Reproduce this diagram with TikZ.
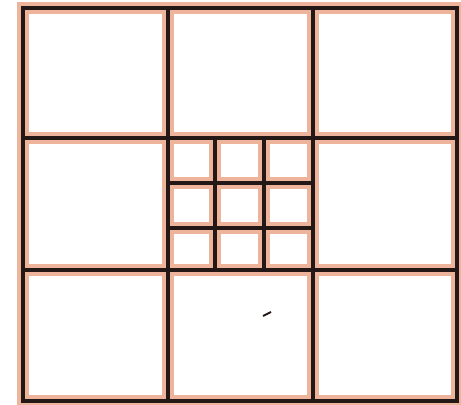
\documentclass[tikz,border=0pt]{standalone}
\usetikzlibrary{calc}
\definecolor{gridpeach}{HTML}{EEB39B}
\definecolor{gridink}{HTML}{231815}
\tikzset{
  peachband/.style={draw=gridpeach, line width=5.6pt, line cap=rect},
  inkline/.style={draw=gridink, line width=1.6pt, line cap=rect},
}
\begin{document}
\begin{tikzpicture}[x=0.5pt, y=-0.5pt]
  \useasboundingbox (0,0) rectangle (461,405);
  % coarse 3x3 grid
  \foreach \x in {23,168,313,457}
    \draw[peachband] (\x,8) -- (\x,401);
  \foreach \y in {8,138,270,401}
    \draw[peachband] (23,\y) -- (457,\y);
  % fine grid in the middle cell
  \foreach \x in {215,264}
    \draw[peachband] (\x,138) -- (\x,270);
  \foreach \y in {183,228}
    \draw[peachband] (168,\y) -- (313,\y);
  % black lines on top
  \foreach \x in {23,168,313,457}
    \draw[inkline] (\x,8) -- (\x,401);
  \foreach \y in {8,138,270,401}
    \draw[inkline] (23,\y) -- (457,\y);
  \foreach \x in {215,264}
    \draw[inkline] (\x,138) -- (\x,270);
  \foreach \y in {183,228}
    \draw[inkline] (168,\y) -- (313,\y);
  % stray mark
  \draw[gridink, line width=0.9pt] (263,316) -- (271,312);
\end{tikzpicture}
\end{document}
